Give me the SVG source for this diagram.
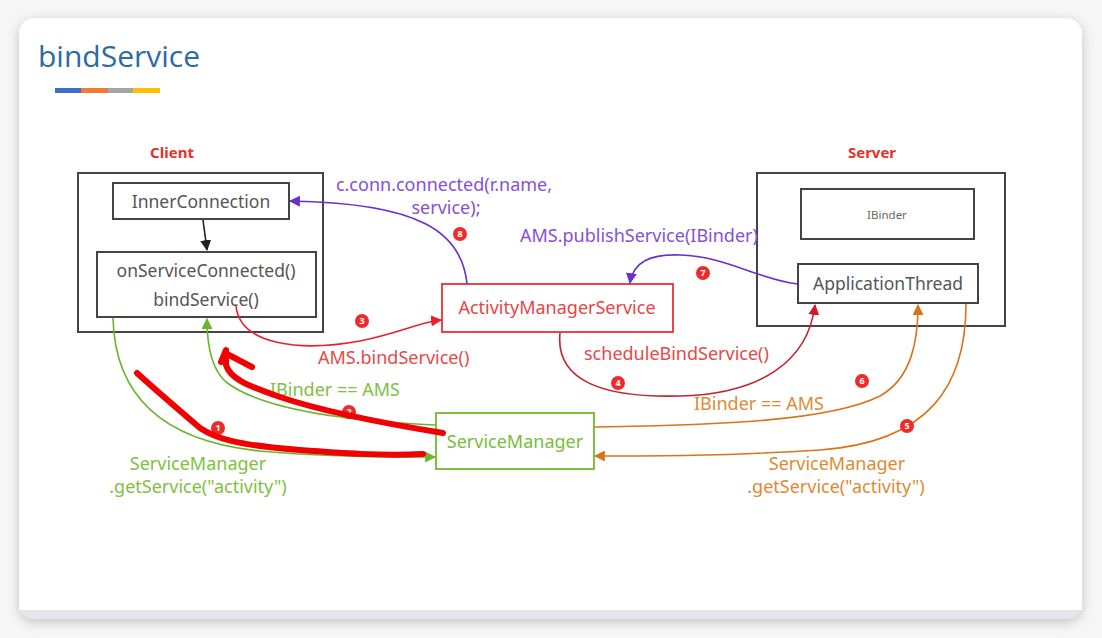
<svg xmlns="http://www.w3.org/2000/svg" width="1102" height="638" viewBox="0 0 1102 638">
<defs>
<filter id="sh" x="-5%" y="-5%" width="110%" height="110%">
<feDropShadow dx="0" dy="3" stdDeviation="6" flood-color="#000" flood-opacity="0.22"/>
</filter>
<marker id="aPur" viewBox="0 0 10 10" refX="9" refY="5" markerWidth="11" markerHeight="11" markerUnits="userSpaceOnUse" orient="auto"><path d="M0,0 L10,5 L0,10 z" fill="#6a2fcc"/></marker>
<marker id="aRed" viewBox="0 0 10 10" refX="9" refY="5" markerWidth="11" markerHeight="11" markerUnits="userSpaceOnUse" orient="auto"><path d="M0,0 L10,5 L0,10 z" fill="#e8202a"/></marker>
<marker id="aDRed" viewBox="0 0 10 10" refX="9" refY="5" markerWidth="11" markerHeight="11" markerUnits="userSpaceOnUse" orient="auto"><path d="M0,0 L10,5 L0,10 z" fill="#d01a2a"/></marker>
<marker id="aOr" viewBox="0 0 10 10" refX="9" refY="5" markerWidth="11" markerHeight="11" markerUnits="userSpaceOnUse" orient="auto"><path d="M0,0 L10,5 L0,10 z" fill="#d9741c"/></marker>
<marker id="aGr" viewBox="0 0 10 10" refX="9" refY="5" markerWidth="11" markerHeight="11" markerUnits="userSpaceOnUse" orient="auto"><path d="M0,0 L10,5 L0,10 z" fill="#6ab42e"/></marker>
<marker id="aBk" viewBox="0 0 10 10" refX="9" refY="5" markerWidth="11" markerHeight="11" markerUnits="userSpaceOnUse" orient="auto"><path d="M0,0 L10,5 L0,10 z" fill="#222"/></marker>
</defs>
<style>
text{font-family:"Noto Sans","Open Sans","Liberation Sans",sans-serif}
.box{fill:#fff;stroke:#444;stroke-width:2}
.nt{font-size:17.5px;fill:#555;text-anchor:middle}
.hd{font-size:15px;font-weight:bold;fill:#e8302a;text-anchor:middle}
.c{fill:none;stroke-width:1.6}
.pur{stroke:#6a2fcc}
.red{stroke:#e8202a}
.dred{stroke:#c8202e}
.or{stroke:#d9741c}
.gr{stroke:#6ab42e}
.lp{font-size:18px;fill:#8550d8}
.lr{font-size:18px;fill:#e84848}
.lo{font-size:18px;fill:#e08a30}
.lg{font-size:18px;fill:#80c040}
.bd{fill:#ee2a2a}
.bt{font-size:9px;fill:#fff;text-anchor:middle;font-weight:bold}
.hand{fill:none;stroke:#f00000;stroke-width:6;stroke-linecap:round;stroke-linejoin:round}
</style>
<rect x="0" y="0" width="1102" height="638" fill="#f6f6f6"/>
<g id="frame">
<rect x="19" y="18" width="1063" height="601" rx="16" fill="#e6e6ea" filter="url(#sh)"/>
<path d="M19,34 a16,16 0 0 1 16,-16 h1031 a16,16 0 0 1 16,16 v576 h-1063 z" fill="#fff"/>
</g>
<g id="title">
<text x="38" y="67" font-size="30" fill="#2d6aa6" style="font-family:'Open Sans','Noto Sans',sans-serif">bindService</text>
<rect x="55" y="88" width="26" height="5" fill="#3e6ec8"/>
<rect x="81" y="88" width="27" height="5" fill="#ed7d31"/>
<rect x="108" y="88" width="25" height="5" fill="#a5a5a5"/>
<rect x="133" y="88" width="27" height="5" fill="#ffc000"/>
</g>
<g id="client">
<text class="hd" x="172" y="158">Client</text>
<rect class="box" x="78" y="173" width="245" height="159"/>
</g>
<g id="innerConnection">
<rect class="box" x="113" y="183" width="176" height="36"/>
<text class="nt" x="201" y="208">InnerConnection</text>
</g>
<g id="onServiceConnected">
<rect class="box" x="97" y="252" width="219" height="65"/>
<text class="nt" x="206" y="277">onServiceConnected()</text>
<text class="nt" x="206" y="306">bindService()</text>
</g>
<g id="server">
<text class="hd" x="872" y="158">Server</text>
<rect class="box" x="757" y="173" width="248" height="153"/>
</g>
<g id="ibinder">
<rect class="box" x="801" y="189" width="173" height="50"/>
<text x="887" y="219" font-size="11.5" fill="#666" text-anchor="middle">IBinder</text>
</g>
<g id="applicationThread">
<rect class="box" x="798" y="264" width="180" height="39"/>
<text class="nt" x="888" y="290">ApplicationThread</text>
</g>
<g id="ams">
<rect x="442" y="284" width="231" height="48" fill="#fff" stroke="#e84545" stroke-width="2"/>
<text x="557" y="314" font-size="18" fill="#e84545" text-anchor="middle">ActivityManagerService</text>
</g>
<g id="serviceManager">
<rect x="436" y="413" width="158" height="56" fill="#fff" stroke="#80c040" stroke-width="2"/>
<text x="515" y="448" font-size="18" fill="#78bc3c" text-anchor="middle">ServiceManager</text>
</g>
<g id="connectors">
<path class="c" stroke="#222" d="M203,220 L207,250" marker-end="url(#aBk)"/>
<path class="c pur" d="M467,284 C462,232 420,203 290,201" marker-end="url(#aPur)"/>
<path class="c pur" d="M798,284 C760,280 725,256 680,255 C650,254 633,262 630,283" marker-end="url(#aPur)"/>
<path class="c red" d="M236,306 C240,345 300,352 360,341 C400,333 420,322 441,320" marker-end="url(#aRed)"/>
<path class="c dred" d="M560,333 C555,382 605,398 680,396 C760,394 808,362 815,305" marker-end="url(#aDRed)"/>
<path class="c or" d="M966,304 C966,385 930,442 820,450 C720,456 660,456 595,456" marker-end="url(#aOr)"/>
<path class="c or" d="M595,427 C720,425 830,421 880,396 C912,378 918,340 918,305" marker-end="url(#aOr)"/>
<path class="c gr" d="M113,318 C115,402 170,442 260,451 C340,458 400,457 435,457" marker-end="url(#aGr)"/>
<path class="c gr" d="M435,425 C350,421 262,410 226,382 C210,368 207,342 207,319" marker-end="url(#aGr)"/>
</g>
<g id="labels">
<text class="lp" x="444" y="191" text-anchor="middle">c.conn.connected(r.name,</text>
<text class="lp" x="446" y="214" text-anchor="middle">service);</text>
<text class="lp" x="520" y="242">AMS.publishService(IBinder)</text>
<text class="lr" x="318" y="364">AMS.bindService()</text>
<text class="lr" x="584" y="360">scheduleBindService()</text>
<text class="lo" x="694" y="410">IBinder == AMS</text>
<text class="lo" x="837" y="470" text-anchor="middle">ServiceManager</text>
<text class="lo" x="836" y="493" text-anchor="middle">.getService("activity")</text>
<text class="lg" x="270" y="396">IBinder == AMS</text>
<text class="lg" x="198" y="470" text-anchor="middle">ServiceManager</text>
<text class="lg" x="198" y="493" text-anchor="middle">.getService("activity")</text>
</g>
<g id="badges">
<circle class="bd" cx="218" cy="428" r="7"/><text class="bt" x="218" y="431">1</text>
<circle class="bd" cx="349" cy="412" r="7"/><text class="bt" x="349" y="415">2</text>
<circle class="bd" cx="362" cy="321" r="7"/><text class="bt" x="362" y="324">3</text>
<circle class="bd" cx="618" cy="383" r="7"/><text class="bt" x="618" y="386">4</text>
<circle class="bd" cx="907" cy="426" r="7"/><text class="bt" x="907" y="429">5</text>
<circle class="bd" cx="862" cy="381" r="7"/><text class="bt" x="862" y="384">6</text>
<circle class="bd" cx="703" cy="273" r="7"/><text class="bt" x="703" y="276">7</text>
<circle class="bd" cx="460" cy="234" r="7"/><text class="bt" x="460" y="237">8</text>
</g>
<g id="annotation">
<path class="hand" d="M137,373 C150,385 165,398 200,428 C215,438 235,445 300,450 C340,453 380,456 423,454"/>
<path class="hand" d="M443,433 C400,426 330,414 280,397 C245,385 230,378 226,365 L226,352"/>
<path class="hand" d="M227,354 L252,367"/>
<path class="hand" d="M221,362 L226,350"/>
</g>
</svg>
